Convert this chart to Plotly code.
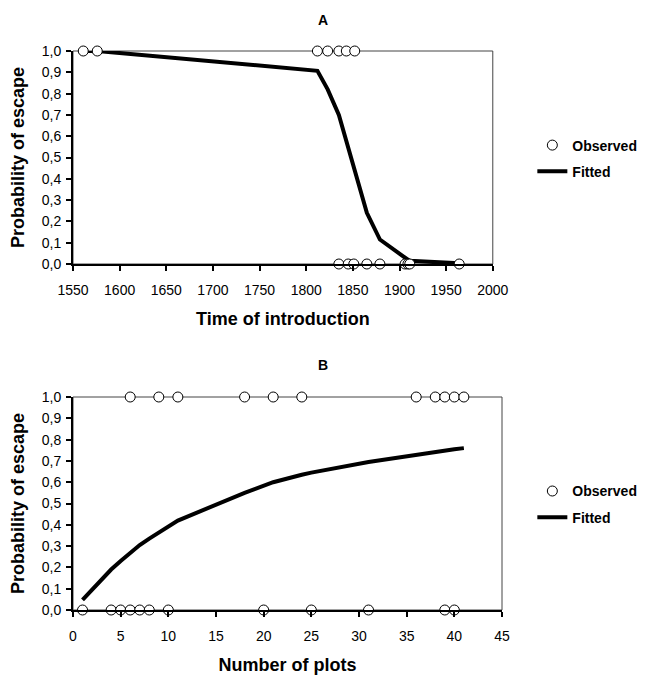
import plotly.graph_objects as go

# ---- Panel A data ----
a_obs_x = [1561, 1576, 1812, 1823, 1835, 1843, 1852,
           1835, 1845, 1851, 1865, 1879, 1906, 1909, 1911, 1964]
a_obs_y = [1, 1, 1, 1, 1, 1, 1,
           0, 0, 0, 0, 0, 0, 0, 0, 0]
a_fit_x = [1561, 1576, 1812, 1823, 1835, 1843, 1845, 1852, 1865, 1879, 1906, 1909, 1911, 1964]
a_fit_y = [1.0, 1.0, 0.907, 0.82, 0.70, 0.58, 0.55, 0.43, 0.24, 0.115, 0.025, 0.02, 0.015, 0.003]

# ---- Panel B data ----
b_obs_x = [6, 9, 11, 18, 21, 24, 36, 38, 39, 40, 41,
           1, 4, 5, 6, 7, 8, 10, 20, 25, 31, 39, 40]
b_obs_y = [1] * 11 + [0] * 12
b_fit_x = [1, 4, 5, 6, 7, 8, 9, 10, 11, 18, 20, 21, 24, 25, 31, 36, 38, 39, 40, 41]
b_fit_y = [0.047, 0.19, 0.23, 0.27, 0.305, 0.335, 0.365, 0.395, 0.42, 0.55, 0.585, 0.60,
           0.635, 0.645, 0.695, 0.73, 0.745, 0.752, 0.755, 0.76]

panel_titles = ["A", "B"]
x_titles = ["Time of introduction", "Number of plots"]
y_title = "Probability of escape"

FONT = "Liberation Sans, Arial, sans-serif"
TITLE_SIZE = 18
TICK_SIZE = 14
LEG_SIZE = 14

fig = go.Figure()

marker_style = dict(symbol="circle", size=10, color="white", line=dict(color="black", width=1))

# Panel A
fig.add_trace(go.Scatter(x=a_fit_x, y=a_fit_y, mode="lines", name="Fitted",
                         line=dict(color="black", width=4), xaxis="x", yaxis="y",
                         legend="legend", legendrank=2, legendgroup="fa", cliponaxis=False))
fig.add_trace(go.Scatter(x=a_obs_x, y=a_obs_y, mode="markers", name="Observed",
                         marker=marker_style, xaxis="x", yaxis="y",
                         legend="legend", legendrank=1, legendgroup="oa", cliponaxis=False))
# Panel B
fig.add_trace(go.Scatter(x=b_fit_x, y=b_fit_y, mode="lines", name="Fitted",
                         line=dict(color="black", width=4), xaxis="x2", yaxis="y2",
                         legend="legend2", legendrank=2, legendgroup="fb", cliponaxis=False))
fig.add_trace(go.Scatter(x=b_obs_x, y=b_obs_y, mode="markers", name="Observed",
                         marker=marker_style, xaxis="x2", yaxis="y2",
                         legend="legend2", legendrank=1, legendgroup="ob", cliponaxis=False))

W, H = 646, 676
OFF = 8  # page body margin offset
# target screen positions of plot areas
A_L, A_R, A_T, A_B = 73.3, 492.5, 51, 264
B_L, B_R, B_T, B_B = 73.3, 501.7, 397, 610

ml = A_L - OFF
mr = W - (B_R - OFF)
mt = A_T - OFF
mb = H - (B_B - OFF)
pw, ph = W - ml - mr, H - mt - mb

def fx(sx):
    return (sx - OFF - ml) / pw

def fy(sy):
    return (H - mb - (sy - OFF)) / ph

title_font = dict(family=FONT, size=TITLE_SIZE, color="black", weight="bold")

axis_common = dict(showline=True, linewidth=2, linecolor="black", ticks="outside",
                   ticklen=5, tickwidth=2, tickcolor="black", showgrid=False, zeroline=False,
                   tickfont=dict(family=FONT, size=TICK_SIZE, color="black"), automargin=False)

xa = dict(axis_common, domain=[0, fx(A_R)], range=[1550, 2000], dtick=50, tick0=1550,
          anchor="y", ticklabelstandoff=7,
          title=dict(text=x_titles[0], font=title_font, standoff=16))
xb = dict(axis_common, domain=[0, 1], range=[0, 45], dtick=5, tick0=0,
          anchor="y2", ticklabelstandoff=7,
          title=dict(text=x_titles[1], font=title_font, standoff=16))
ya = dict(axis_common, domain=[fy(A_B), 1], range=[0, 1], dtick=0.1, tickformat=".1f",
          anchor="x", ticklabelstandoff=2,
          title=dict(text=y_title, font=title_font, standoff=19))
yb = dict(axis_common, domain=[0, fy(B_T)], range=[0, 1], dtick=0.1, tickformat=".1f",
          anchor="x2", ticklabelstandoff=2,
          title=dict(text=y_title, font=title_font, standoff=19))

legend_common = dict(font=dict(family=FONT, size=LEG_SIZE, color="black", weight="bold"),
                     bgcolor="rgba(0,0,0,0)", borderwidth=0, xanchor="left", yanchor="middle",
                     tracegroupgap=5, traceorder="grouped")

panel_font = dict(family=FONT, size=14, color="black", weight="bold")

fig.update_layout(
    width=W, height=H,
    margin=dict(l=ml, r=mr, t=mt, b=mb, pad=0),
    paper_bgcolor="white", plot_bgcolor="white",
    separators=",.",
    xaxis=xa, yaxis=ya, xaxis2=xb, yaxis2=yb,
    legend=dict(legend_common, x=fx(532), y=fy(158.5)),
    legend2=dict(legend_common, x=fx(532), y=fy(504.4)),
    annotations=[
        dict(text=panel_titles[0], xref="paper", yref="paper", x=fx(323), y=fy(20),
             xanchor="center", yanchor="middle", showarrow=False, font=panel_font),
        dict(text=panel_titles[1], xref="paper", yref="paper", x=fx(323), y=fy(365),
             xanchor="center", yanchor="middle", showarrow=False, font=panel_font),
    ],
    shapes=[
        dict(type="rect", xref="x domain", yref="y domain", x0=0, x1=1, y0=0, y1=1,
             line=dict(color="#444", width=1), layer="below"),
        dict(type="rect", xref="x2 domain", yref="y2 domain", x0=0, x1=1, y0=0, y1=1,
             line=dict(color="#444", width=1), layer="below"),
    ],
)

fig.write_html("out.html")
